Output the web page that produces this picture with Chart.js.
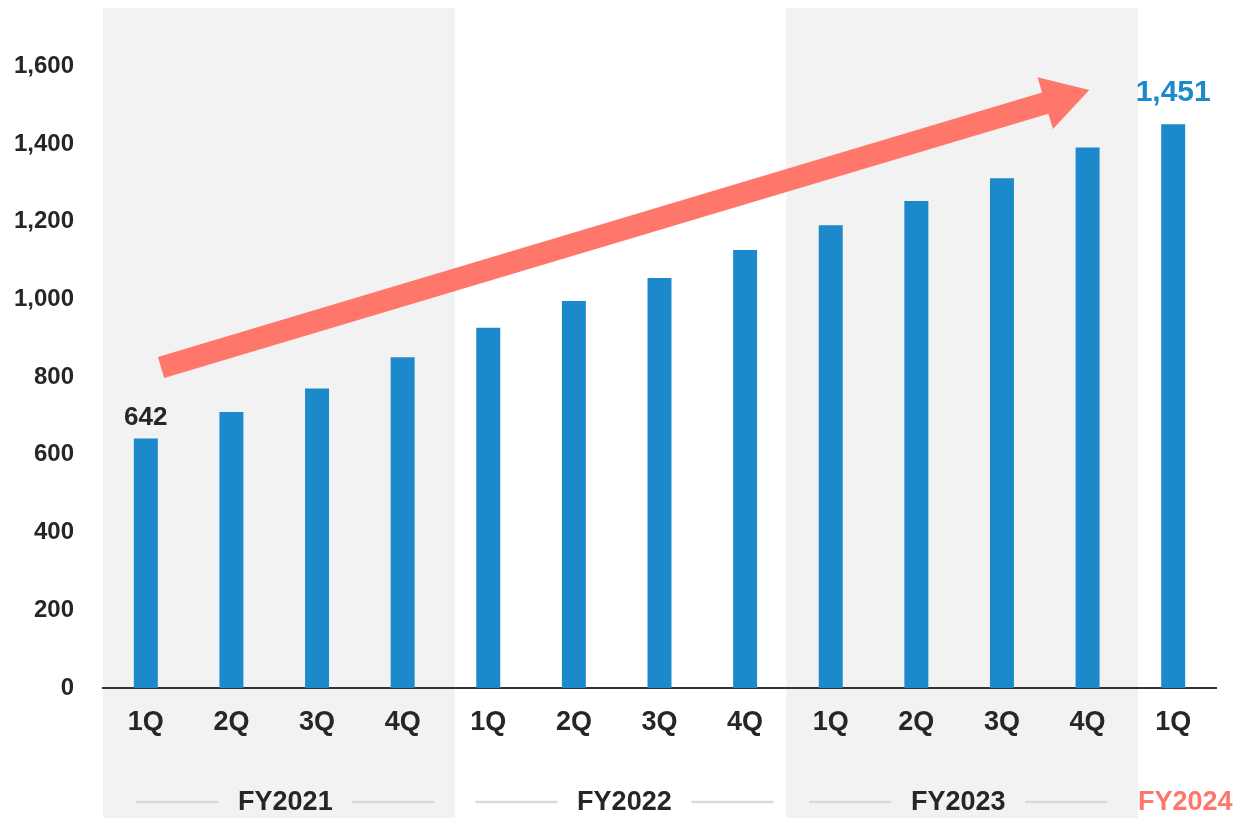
<!DOCTYPE html>
<html>
<head>
<meta charset="utf-8">
<script src="https://cdn.jsdelivr.net/npm/chart.js@4"></script>
<style>
  html, body { margin: 0; padding: 0; background: #ffffff; }
  canvas { display: block; }
</style>
</head>
<body>
<canvas id="chart" width="1238" height="818"></canvas>
<script>
// Quarterly figures, FY2021 1Q through FY2024 1Q
const quarterLabels = ['1Q', '2Q', '3Q', '4Q', '1Q', '2Q', '3Q', '4Q', '1Q', '2Q', '3Q', '4Q', '1Q'];
const quarterValues = [642, 710, 771, 851, 927, 996, 1055, 1127, 1191, 1253, 1312, 1391, 1451];

// Fiscal years and how many quarters each one covers
const fiscalYears = ['FY2021', 'FY2022', 'FY2023', 'FY2024'];
const quartersPerYear = [4, 4, 4, 1];

// Value axis ticks
const yTicks = [0, 200, 400, 600, 800, 1000, 1200, 1400, 1600];

// Which bars carry a value label
const labelledBars = [0, 12];

const BLUE = '#1B89CA';
const SALMON = '#FF766A';
const TEXT = '#262626';
const FONT = "'Liberation Sans', Arial, Helvetica, sans-serif";

// Shaded backgrounds behind alternate fiscal years (category-index units)
const bandPlugin = {
  id: 'yearBands',
  beforeDraw(chart, args, opts) {
    const { ctx, chartArea } = chart;
    const x = chart.scales.x;
    ctx.save();
    ctx.fillStyle = opts.color;
    opts.ranges.forEach(([a, b]) => {
      const x0 = x.getPixelForValue(a);
      const x1 = x.getPixelForValue(b);
      ctx.fillRect(x0, chartArea.top, x1 - x0, chart.height - chartArea.top);
    });
    ctx.restore();
  }
};

// Fiscal-year captions under the quarter labels, flanked by thin rules
const yearCaptionPlugin = {
  id: 'yearCaptions',
  afterDraw(chart, args, opts) {
    const { ctx, chartArea } = chart;
    const x = chart.scales.x;
    const y = chartArea.bottom + opts.offset;
    ctx.save();
    ctx.font = `bold ${opts.size}px ${FONT}`;
    ctx.textAlign = 'center';
    ctx.textBaseline = 'middle';
    fiscalYears.forEach((fy, i) => {
      const cx = x.getPixelForValue(opts.centers[i]);
      const last = i === fiscalYears.length - 1;
      if (!last) {
        ctx.strokeStyle = opts.ruleColor;
        ctx.lineWidth = 2.5;
        ctx.beginPath();
        ctx.moveTo(cx - opts.ruleOuter, y - 1);
        ctx.lineTo(cx - opts.ruleInner, y - 1);
        ctx.moveTo(cx + opts.ruleInner, y - 1);
        ctx.lineTo(cx + opts.ruleOuter, y - 1);
        ctx.stroke();
      }
      ctx.fillStyle = last ? SALMON : TEXT;
      ctx.fillText(fy, cx, y);
    });
    ctx.restore();
  }
};

// Growth arrow across the chart, anchored in data coordinates
const arrowPlugin = {
  id: 'trendArrow',
  afterDatasetsDraw(chart, args, opts) {
    const { ctx } = chart;
    const x = chart.scales.x, y = chart.scales.y;
    const x0 = x.getPixelForValue(opts.from[0]), y0 = y.getPixelForValue(opts.from[1]);
    const x1 = x.getPixelForValue(opts.to[0]), y1 = y.getPixelForValue(opts.to[1]);
    const dx = x1 - x0, dy = y1 - y0;
    const len = Math.hypot(dx, dy);
    const ux = dx / len, uy = dy / len;
    const nx = -uy, ny = ux;
    const hw = opts.shaft / 2, hh = opts.headWidth / 2, hl = opts.headLength;
    const bx = x1 - ux * hl, by = y1 - uy * hl;
    ctx.save();
    ctx.fillStyle = SALMON;
    ctx.beginPath();
    ctx.moveTo(x0 + nx * hw, y0 + ny * hw);
    ctx.lineTo(bx + nx * hw, by + ny * hw);
    ctx.lineTo(bx + nx * hh, by + ny * hh);
    ctx.lineTo(x1, y1);
    ctx.lineTo(bx - nx * hh, by - ny * hh);
    ctx.lineTo(bx - nx * hw, by - ny * hw);
    ctx.lineTo(x0 - nx * hw, y0 - ny * hw);
    ctx.closePath();
    ctx.fill();
    ctx.restore();
  }
};

// Value labels above the first and latest bars
const valueLabelPlugin = {
  id: 'valueLabels',
  afterDatasetsDraw(chart) {
    const { ctx } = chart;
    const meta = chart.getDatasetMeta(0);
    ctx.save();
    ctx.textAlign = 'center';
    ctx.textBaseline = 'middle';
    labelledBars.forEach(i => {
      const bar = meta.data[i];
      const latest = i === quarterValues.length - 1;
      const size = latest ? 30 : 26;
      ctx.font = `bold ${size}px ${FONT}`;
      ctx.fillStyle = latest ? BLUE : TEXT;
      ctx.fillText(quarterValues[i].toLocaleString('en-US'), bar.x, bar.y - (latest ? 31 : 21));
    });
    ctx.restore();
  }
};

new Chart(document.getElementById('chart'), {
  type: 'bar',
  data: {
    labels: quarterLabels,
    datasets: [{
      data: quarterValues,
      backgroundColor: BLUE,
      borderWidth: 0,
      categoryPercentage: 1,
      barPercentage: 0.28
    }]
  },
  options: {
    responsive: false,
    devicePixelRatio: 1,
    animation: false,
    layout: { padding: { top: 8, right: 22, left: 0, bottom: 0 } },
    plugins: {
      legend: { display: false },
      tooltip: { enabled: false },
      yearBands: { color: '#F2F2F2', ranges: [[-0.5, 3.61], [7.48, 11.59]] },
      yearCaptions: {
        offset: 115, size: 27, ruleColor: '#D9D9D9',
        ruleInner: 67, ruleOuter: 149,
        centers: [1.63, 5.59, 9.49, 12.14]
      },
      trendArrow: { from: [0.178, 825], to: [11.02, 1539], shaft: 22, headWidth: 54, headLength: 46 }
    },
    scales: {
      x: {
        grid: { display: false, drawTicks: false },
        border: { display: true, color: '#333333', width: 2 },
        ticks: {
          color: TEXT,
          padding: 18,
          font: { family: FONT, size: 27, weight: 'bold' }
        },
        afterFit(scale) {
          scale.height = 130;
          scale.paddingLeft = 0;
          scale.paddingRight = 0;
        }
      },
      y: {
        min: 0,
        max: 1750,
        grid: { display: false, drawTicks: false },
        border: { display: false },
        ticks: {
          stepSize: 200,
          padding: 29,
          color: TEXT,
          font: { family: FONT, size: 24, weight: 'bold' },
          callback: v => v.toLocaleString('en-US')
        },
        afterBuildTicks(scale) {
          scale.ticks = yTicks.map(v => ({ value: v }));
        },
        afterFit(scale) {
          scale.width = 103;
          scale.paddingTop = 0;
          scale.paddingBottom = 0;
        }
      }
    }
  },
  plugins: [bandPlugin, arrowPlugin, valueLabelPlugin, yearCaptionPlugin]
});
</script>
</body>
</html>
